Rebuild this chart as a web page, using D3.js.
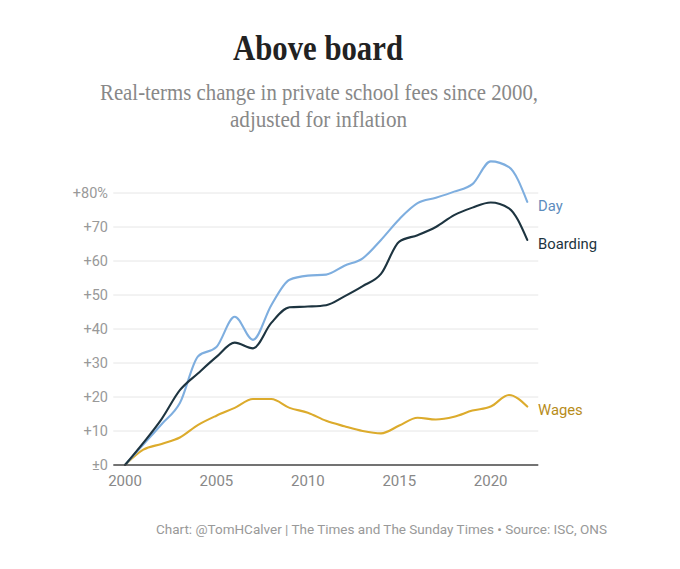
<!DOCTYPE html>
<html><head><meta charset="utf-8">
<script src="https://cdn.jsdelivr.net/npm/d3@7"></script>
<style>
body{margin:0;background:#fff;}
svg{display:block;}
</style></head>
<body>
<script>
const years = d3.range(2000, 2023);
const day = [0,6,12,18.2,32,34.7,43.6,36.8,47,54.5,55.7,56,58.6,60.8,66.2,72.3,77,78.6,80.4,82.6,89.3,87.6,77.4];
const boarding = [0,6.5,13.5,22,27,31.8,36,34.3,41.8,46.4,46.6,47,49.6,52.6,56.2,65.7,67.6,70,73.5,75.7,77.2,75.5,66.2];
const wages = [0,4.5,6.2,8.1,11.8,14.5,16.8,19.4,19.4,16.8,15.4,13,11.4,10,9.3,11.6,13.9,13.4,14.2,16,17.2,20.6,17.2];
const yTicks = [0,10,20,30,40,50,60,70,80];
const yTickLabels = ["±0","+10","+20","+30","+40","+50","+60","+70","+80%"];
const xTicks = [2000,2005,2010,2015,2020];
const seriesNames = ["Day","Boarding","Wages"];

const W=680,H=569;
const svg=d3.select("body").append("svg").attr("width",W).attr("height",H);

const x=d3.scaleLinear().domain([2000,2020]).range([125,490.7]);
const y=d3.scaleLinear().domain([0,80]).range([465,193]);
const x0=113.3, x1=538.3;

// title
svg.append("text").attr("x",318).attr("y",60).attr("text-anchor","middle")
  .attr("font-family","Liberation Serif, serif").attr("font-weight","bold")
  .attr("font-size",36).attr("fill","#222").attr("textLength",170).attr("lengthAdjust","spacingAndGlyphs")
  .text("Above board");
svg.append("text").attr("x",319).attr("y",100).attr("text-anchor","middle")
  .attr("font-family","Liberation Serif, serif").attr("font-size",23).attr("fill","#888")
  .attr("textLength",438).attr("lengthAdjust","spacingAndGlyphs")
  .text("Real-terms change in private school fees since 2000,");
svg.append("text").attr("x",318.5).attr("y",127).attr("text-anchor","middle")
  .attr("font-family","Liberation Serif, serif").attr("font-size",23).attr("fill","#888")
  .attr("textLength",177).attr("lengthAdjust","spacingAndGlyphs")
  .text("adjusted for inflation");

// gridlines
const g=svg.append("g");
g.selectAll("line.grid").data(yTicks.filter(d=>d>0)).join("line")
  .attr("x1",x0).attr("x2",x1).attr("y1",d=>y(d)).attr("y2",d=>y(d))
  .attr("stroke","#e6e6e6").attr("stroke-width",1);
g.selectAll("text.yt").data(yTicks).join("text")
  .attr("x",108).attr("y",d=>y(d)).attr("dy","0.35em").attr("text-anchor","end")
  .attr("font-family","Roboto, sans-serif").attr("font-size",14.5).attr("fill","#999")
  .text((d,i)=>yTickLabels[i]);
g.selectAll("text.xt").data(xTicks).join("text")
  .attr("x",d=>x(d)).attr("y",486).attr("text-anchor","middle")
  .attr("font-family","Roboto, sans-serif").attr("font-size",15).attr("fill","#888")
  .text(d=>d);

const colors={Day:"#7eaedf",Boarding:"#1d3440",Wages:"#dcab2c"};
const labelColors={Day:"#5d8cbd",Boarding:"#1d3440",Wages:"#b78c1a"};
const data={Day:day,Boarding:boarding,Wages:wages};
const line=d3.line().x((d,i)=>x(years[i])).y(d=>y(d)).curve(d3.curveMonotoneX);

["Wages","Day","Boarding"].forEach(n=>{
  svg.append("path").attr("d",line(data[n])).attr("fill","none")
    .attr("stroke",colors[n]).attr("stroke-width",2.1).attr("stroke-linejoin","round").attr("stroke-linecap","round");
});
// baseline
svg.append("line").attr("x1",x0).attr("x2",x1).attr("y1",y(0)).attr("y2",y(0))
  .attr("stroke","#444").attr("stroke-width",1.3);

seriesNames.forEach(n=>{
  const v=data[n][data[n].length-1];
  svg.append("text").attr("x",538).attr("y",y(v)+3.5).attr("dy","0.35em")
    .attr("font-family","Roboto, sans-serif").attr("font-size",14.8).attr("fill",labelColors[n])
    .text(n);
});

svg.append("text").attr("x",607).attr("y",534).attr("text-anchor","end")
  .attr("font-family","Roboto, sans-serif").attr("font-size",13.5).attr("fill","#999")
  .text("Chart: @TomHCalver | The Times and The Sunday Times • Source: ISC, ONS");
</script>
</body></html>
